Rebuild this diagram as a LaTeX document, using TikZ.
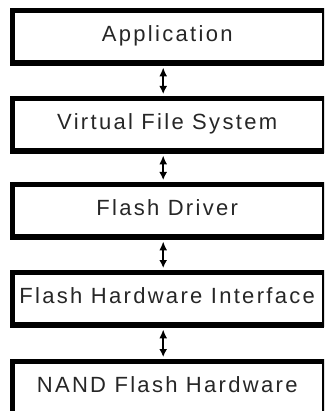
\documentclass[tikz,border=0pt]{standalone}
\usepackage{fontspec}
\setmainfont[LetterSpace=10.5]{Liberation Sans}
\usetikzlibrary{arrows.meta}
\tikzset{
  layer/.style={anchor=north west, minimum width=314pt, minimum height=57pt, inner sep=0pt,
    font=\fontsize{22}{26}\selectfont, text=black!85, text height=16pt, text depth=7pt,
    path picture={
      \draw[line width=10pt] (path picture bounding box.north east) -- (path picture bounding box.north west)
        -- (path picture bounding box.south west) -- (path picture bounding box.south east);
      \draw[line width=4pt] (path picture bounding box.north east) -- (path picture bounding box.south east);
    }},
  conn/.style={line width=2pt, {Latex[length=9pt,width=8pt]}-{Latex[length=8pt,width=8pt]},
    shorten <=2pt, shorten >=2pt}
}
\begin{document}
\begin{tikzpicture}[x=1pt,y=-1pt]
\useasboundingbox (0,0) rectangle (325,411);
\clip (0,0) rectangle (325,411);
\node[layer] (b1) at (10,8) {Application};
\node[layer] (b2) at (10,96) {Virtual File System};
\node[layer] (b3) at (10,182) {Flash Driver};
\node[layer] (b4) at (10,270) {Flash Hardware Interface};
\node[layer] (b5) at (10,359) {NAND Flash Hardware};
\foreach \a/\b in {b1/b2,b2/b3,b3/b4,b4/b5}
  \draw[conn] ([xshift=-4pt]\a.south) -- ([xshift=-4pt]\b.north);
\end{tikzpicture}
\end{document}
